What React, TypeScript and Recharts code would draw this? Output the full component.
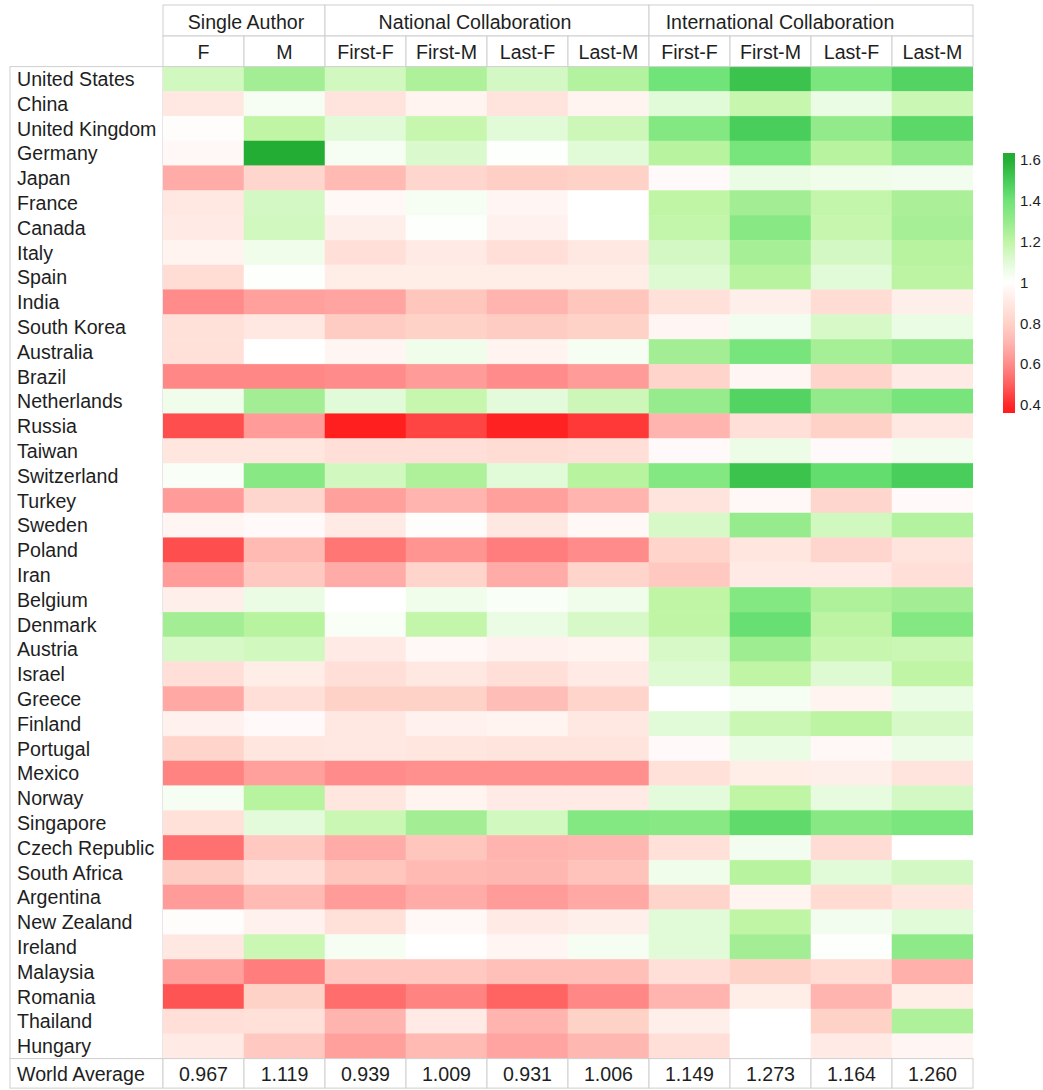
import React from 'react';
import { ScatterChart, Scatter, XAxis, YAxis, BarChart, Bar } from 'recharts';

const COUNTRIES = ['United States','China','United Kingdom','Germany','Japan','France','Canada','Italy','Spain','India','South Korea','Australia','Brazil','Netherlands','Russia','Taiwan','Switzerland','Turkey','Sweden','Poland','Iran','Belgium','Denmark','Austria','Israel','Greece','Finland','Portugal','Mexico','Norway','Singapore','Czech Republic','South Africa','Argentina','New Zealand','Ireland','Malaysia','Romania','Thailand','Hungary'];
const COLUMNS = ['F','M','First-F','First-M','Last-F','Last-M','First-F','First-M','Last-F','Last-M'];
const GROUPS = ['Single Author','National Collaboration','International Collaboration'];
const GROUP_SPANS = [2, 4, 4];
const WORLD_AVG = [0.967, 1.119, 0.939, 1.009, 0.931, 1.006, 1.149, 1.273, 1.164, 1.260];

const singleF = [1.15,0.90,0.99,0.97,0.68,0.90,0.91,0.95,0.85,0.60,0.87,0.87,0.59,1.05,0.47,0.89,1.02,0.64,0.96,0.47,0.64,0.93,1.27,1.13,0.86,0.67,0.94,0.81,0.58,1.03,0.87,0.54,0.78,0.64,0.99,0.90,0.65,0.48,0.86,0.91];
const singleM = [1.27,1.03,1.20,1.62,0.82,1.14,1.15,1.05,1.01,0.65,0.90,1.00,0.59,1.27,0.64,0.89,1.34,0.82,0.98,0.72,0.77,1.07,1.22,1.15,0.92,0.86,0.98,0.89,0.65,1.22,1.09,0.77,0.86,0.72,0.94,1.17,0.57,0.80,0.87,0.77];
const natFirstF = [1.15,0.88,1.10,1.03,0.72,0.97,0.93,0.86,0.92,0.66,0.78,0.96,0.60,1.10,0.37,0.86,1.15,0.65,0.91,0.55,0.68,1.00,1.02,0.91,0.86,0.80,0.90,0.90,0.60,0.89,1.17,0.68,0.76,0.64,0.87,1.03,0.77,0.53,0.70,0.65];
const natFirstM = [1.24,0.95,1.18,1.12,0.82,1.03,1.01,0.91,0.92,0.76,0.80,1.05,0.64,1.18,0.45,0.86,1.24,0.70,0.99,0.62,0.81,1.05,1.19,0.97,0.90,0.80,0.94,0.89,0.61,0.95,1.27,0.76,0.72,0.68,0.97,1.00,0.77,0.58,0.91,0.72];
const natLastF = [1.14,0.88,1.10,1.01,0.79,0.96,0.94,0.86,0.92,0.70,0.78,0.95,0.60,1.09,0.38,0.85,1.10,0.65,0.90,0.57,0.68,1.02,1.07,0.94,0.86,0.73,0.95,0.88,0.61,0.91,1.15,0.70,0.71,0.64,0.91,0.96,0.74,0.51,0.70,0.66];
const natLastM = [1.23,0.95,1.16,1.10,0.80,1.00,1.00,0.90,0.92,0.76,0.80,1.03,0.64,1.16,0.43,0.86,1.22,0.70,0.97,0.60,0.81,1.05,1.13,0.95,0.91,0.81,0.90,0.88,0.61,0.91,1.35,0.71,0.75,0.67,0.93,1.03,0.74,0.59,0.80,0.71];
const intFirstF = [1.40,1.10,1.35,1.22,0.98,1.20,1.19,1.14,1.11,0.87,0.96,1.27,0.81,1.30,0.70,0.98,1.35,0.88,1.13,0.81,0.77,1.20,1.20,1.13,1.11,1.00,1.10,0.98,0.87,1.09,1.34,0.87,1.05,0.81,1.10,1.10,0.86,0.70,0.93,0.86];
const intFirstM = [1.53,1.18,1.49,1.38,1.07,1.27,1.34,1.26,1.22,0.93,1.04,1.38,0.96,1.47,0.86,1.06,1.53,0.97,1.30,0.89,0.91,1.35,1.42,1.28,1.20,1.03,1.17,1.07,0.92,1.20,1.44,1.04,1.22,0.95,1.20,1.27,0.80,0.92,1.00,1.00];
const intLastF = [1.37,1.07,1.31,1.22,1.05,1.19,1.18,1.14,1.10,0.85,1.13,1.26,0.81,1.31,0.80,0.98,1.43,0.82,1.15,0.82,0.91,1.24,1.21,1.18,1.11,0.95,1.21,0.97,0.93,1.08,1.34,0.85,1.10,0.84,1.04,1.01,0.85,0.70,0.80,0.91];
const intLastM = [1.47,1.17,1.45,1.31,1.04,1.25,1.26,1.22,1.21,0.93,1.07,1.31,0.91,1.38,0.90,1.04,1.49,0.98,1.23,0.88,0.86,1.27,1.35,1.17,1.20,1.07,1.13,1.06,0.88,1.14,1.37,1.00,1.14,0.89,1.10,1.32,0.69,0.92,1.24,0.96];

const SERIES = [singleF, singleM, natFirstF, natFirstM, natLastF, natLastM, intFirstF, intFirstM, intLastF, intLastM];
const COLORBAR_TICKS = [0.4, 0.6, 0.8, 1, 1.2, 1.4, 1.6];
const COLORBAR_DOMAIN: [number, number] = [0.36, 1.634];

const COLOR_STOPS: [number, number[]][] = [
  [0.35, [255, 25, 25]], [0.4, [255, 40, 40]], [0.5, [255, 95, 95]], [0.6, [255, 140, 138]],
  [0.7, [255, 180, 175]], [0.8, [255, 210, 200]], [0.9, [255, 232, 226]], [1.0, [255, 255, 255]],
  [1.1, [225, 250, 215]], [1.2, [192, 245, 165]], [1.3, [150, 235, 140]], [1.4, [112, 228, 120]],
  [1.5, [70, 203, 88]], [1.6, [36, 175, 53]], [1.65, [33, 170, 50]],
];

function colorFor(v: number): string {
  if (v <= COLOR_STOPS[0][0]) return `rgb(${COLOR_STOPS[0][1].join(',')})`;
  for (let i = 1; i < COLOR_STOPS.length; i++) {
    const [v1, c1] = COLOR_STOPS[i];
    const [v0, c0] = COLOR_STOPS[i - 1];
    if (v <= v1) {
      const t = (v - v0) / (v1 - v0);
      const c = c0.map((a, k) => Math.round(a + (c1[k] - a) * t));
      return `rgb(${c.join(',')})`;
    }
  }
  return `rgb(${COLOR_STOPS[COLOR_STOPS.length - 1][1].join(',')})`;
}

const FONT = '"Liberation Sans", Arial, Helvetica, sans-serif';
const TEXT = '#1e1e1e';
const GRID = '#cfcfcf';
const W = 1043;
const H = 1090;
const PLOT_LEFT = 163;
const PLOT_RIGHT = 973;
const PLOT_TOP = 66.6;
const PLOT_BOTTOM = 1058.6;
const LABEL_LEFT = 10;
const CW = (PLOT_RIGHT - PLOT_LEFT) / COLUMNS.length;
const RH = (PLOT_BOTTOM - PLOT_TOP) / COUNTRIES.length;
const HDR_H = 30.6;
const GROUP_TOP = 5;
const WA_H = 29.5;
const FS = 19.6;
// horizontal offsets of the group titles from their cell centres, as in the reference
const GROUP_LABEL_SHIFT = [2, -12, -31];

const cells = SERIES.flatMap((arr, c) => arr.map((v, r) => ({ x: c, y: r, v })));

const HeatCell = (props: any) => {
  const { cx, cy, payload } = props;
  if (cx == null || cy == null) return <g />;
  const fill = colorFor(payload.v);
  return <rect x={cx - CW / 2} y={cy - RH / 2} width={CW} height={RH} fill={fill} stroke={fill} strokeWidth={0.5} />;
};

const TopTick = (props: any) => {
  const { x, payload } = props;
  return (
    <g>
      <rect x={x - CW / 2} y={PLOT_TOP - HDR_H} width={CW} height={HDR_H} fill="#fff" stroke={GRID} />
      <text x={x} y={PLOT_TOP - HDR_H / 2 + 1} textAnchor="middle" dominantBaseline="central" fontSize={FS} fontFamily={FONT} fill={TEXT}>
        {COLUMNS[payload.value]}
      </text>
    </g>
  );
};

const BotTick = (props: any) => {
  const { x, payload } = props;
  return (
    <g>
      <rect x={x - CW / 2} y={PLOT_BOTTOM} width={CW} height={WA_H} fill="#fff" stroke={GRID} />
      <text x={x} y={PLOT_BOTTOM + WA_H / 2 + 1} textAnchor="middle" dominantBaseline="central" fontSize={FS} fontFamily={FONT} fill={TEXT}>
        {WORLD_AVG[payload.value].toFixed(3)}
      </text>
    </g>
  );
};

const LeftTick = (props: any) => {
  const { y, payload } = props;
  return (
    <text x={17} y={y} textAnchor="start" dominantBaseline="central" fontSize={FS} fontFamily={FONT} fill={TEXT}>
      {COUNTRIES[payload.value]}
    </text>
  );
};

const Overlay = () => {
  let start = 0;
  return (
    <svg width={W} height={H} style={{ position: 'absolute', left: 0, top: 0 }}>
      {GROUPS.map((g, i) => {
        const x0 = PLOT_LEFT + start * CW;
        const w = GROUP_SPANS[i] * CW;
        start += GROUP_SPANS[i];
        return (
          <g key={g}>
            <rect x={x0} y={GROUP_TOP} width={w} height={PLOT_TOP - HDR_H - GROUP_TOP} fill="#fff" stroke={GRID} />
            <text x={x0 + w / 2 + GROUP_LABEL_SHIFT[i]} y={(GROUP_TOP + PLOT_TOP - HDR_H) / 2 + 1} textAnchor="middle" dominantBaseline="central" fontSize={FS} fontFamily={FONT} fill={TEXT}>
              {g}
            </text>
          </g>
        );
      })}
      <rect x={LABEL_LEFT} y={PLOT_TOP} width={PLOT_LEFT - LABEL_LEFT} height={PLOT_BOTTOM - PLOT_TOP} fill="#fff" stroke={GRID} />
      <rect x={LABEL_LEFT} y={PLOT_BOTTOM} width={PLOT_LEFT - LABEL_LEFT} height={WA_H} fill="#fff" stroke={GRID} />
      <text x={17} y={PLOT_BOTTOM + WA_H / 2 + 1} dominantBaseline="central" fontSize={FS} fontFamily={FONT} fill={TEXT}>World Average</text>
    </svg>
  );
};

const ColorBar = () => {
  const [lo, hi] = COLORBAR_DOMAIN;
  const stops = [hi, ...COLOR_STOPS.map((s) => s[0]).filter((v) => v > lo && v < hi).reverse(), lo];
  return (
    <div style={{ position: 'absolute', left: 1003, top: 143 }}>
      <BarChart width={40} height={280} data={[{ name: 'scale', range: [lo, hi] }]} margin={{ top: 10, bottom: 10, left: 0, right: 0 }} barCategoryGap={0}>
        <defs>
          <linearGradient id="cbgrad" x1="0" y1="0" x2="0" y2="1">
            {stops.map((v, i) => (
              <stop key={i} offset={(hi - v) / (hi - lo)} stopColor={colorFor(v)} />
            ))}
          </linearGradient>
        </defs>
        <XAxis dataKey="name" hide />
        <YAxis orientation="right" width={28} type="number" domain={COLORBAR_DOMAIN} allowDataOverflow ticks={COLORBAR_TICKS} interval={0}
          axisLine={false} tickLine={false} tickSize={3} tickMargin={2}
          tick={{ fontSize: 15, fontFamily: FONT, fill: TEXT, textAnchor: 'start' }} />
        <Bar dataKey="range" fill="url(#cbgrad)" isAnimationActive={false} />
      </BarChart>
    </div>
  );
};

export default function App() {
  const colTicks = COLUMNS.map((_, i) => i);
  const rowTicks = COUNTRIES.map((_, i) => i);
  return (
    <div style={{ position: 'absolute', left: 0, top: 0, width: W, height: H, background: '#fff', fontFamily: FONT }}>
      <Overlay />
      <div style={{ position: 'absolute', left: 0, top: 0 }}>
        <ScatterChart width={W} height={H} margin={{ top: PLOT_TOP - HDR_H, right: W - PLOT_RIGHT, bottom: H - PLOT_BOTTOM - WA_H, left: LABEL_LEFT }}>
          <XAxis xAxisId="top" orientation="top" type="number" dataKey="x" domain={[-0.5, 9.5]} ticks={colTicks} interval={0}
            height={HDR_H} axisLine={false} tickLine={false} tick={<TopTick />} allowDataOverflow />
          <XAxis xAxisId="bot" orientation="bottom" type="number" dataKey="x" domain={[-0.5, 9.5]} ticks={colTicks} interval={0}
            height={WA_H} axisLine={false} tickLine={false} tick={<BotTick />} allowDataOverflow />
          <YAxis yAxisId="y" type="number" dataKey="y" domain={[-0.5, 39.5]} reversed ticks={rowTicks} interval={0}
            width={PLOT_LEFT - LABEL_LEFT} axisLine={false} tickLine={false} tick={<LeftTick />} allowDataOverflow />
          <Scatter data={cells} xAxisId="top" yAxisId="y" shape={<HeatCell />} isAnimationActive={false} />
          <Scatter data={cells} xAxisId="bot" yAxisId="y" shape={() => <g />} isAnimationActive={false} />
        </ScatterChart>
      </div>
      <ColorBar />
    </div>
  );
}
